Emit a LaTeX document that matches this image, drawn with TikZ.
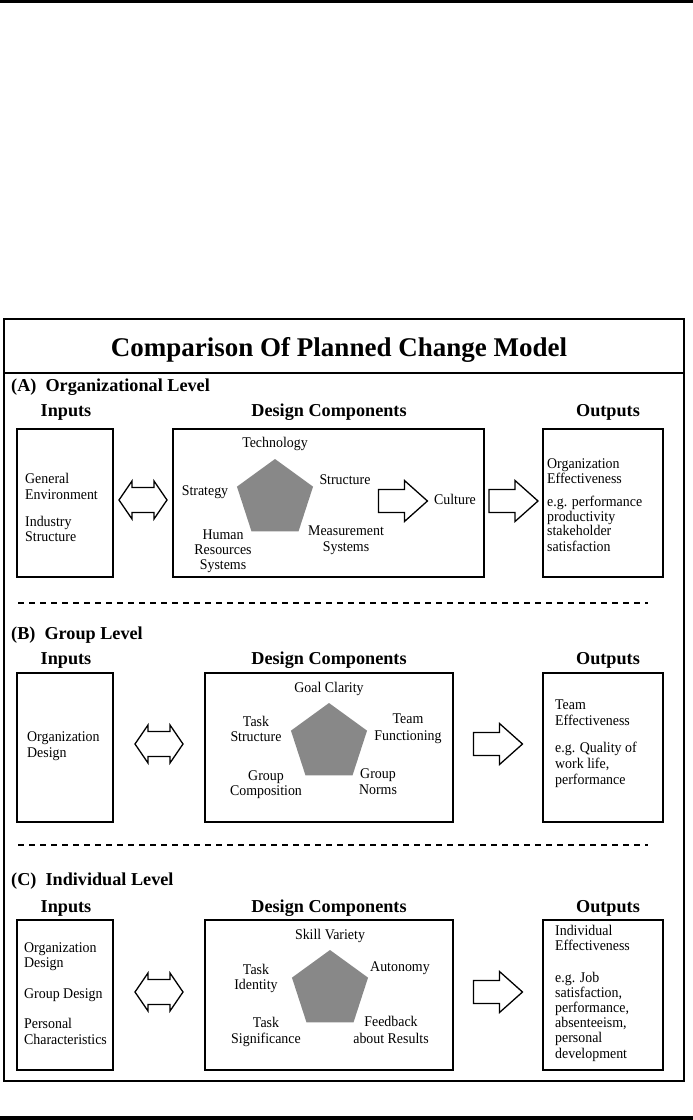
\documentclass[tikz,border=0pt]{standalone}
\usepackage{fontspec}
\setmainfont{Liberation Serif}
\newfontfamily\bodyfont[FakeStretch=0.94]{Liberation Serif}
\usetikzlibrary{shapes.geometric,calc}
\definecolor{pentgray}{RGB}{136,136,136}
\tikzset{
  box/.style={draw,line width=1.5pt,inner sep=0pt},
  lbl/.style={inner sep=0pt,align=center,font=\bodyfont\fontsize{14.8}{15.5}\selectfont},
  lbll/.style={lbl,align=left,anchor=west},
  hd/.style={inner sep=0pt,font=\bfseries\fontsize{18.2}{20}\selectfont},
  ttl/.style={inner sep=0pt,font=\bfseries\fontsize{27}{30}\selectfont},
  pent/.style={regular polygon,regular polygon sides=5,minimum size=80pt,inner sep=0pt,fill=pentgray},
  arr/.style={draw,line width=1.3pt,line join=miter,fill=white},
  sepline/.style={line width=2pt,dash pattern=on 5.5pt off 5.5pt},
  dblarr/.pic={\draw[arr] (-24,0) -- (-11,-19) -- (-11,-12.5) -- (11,-12.5) -- (11,-19) -- (24,0) -- (11,19) -- (11,12.5) -- (-11,12.5) -- (-11,19) -- cycle;},
  sglarr/.pic={\draw[arr] (-24.5,-11.5) -- (1.5,-11.5) -- (1.5,-20.5) -- (24.5,0) -- (1.5,20.5) -- (1.5,11.5) -- (-24.5,11.5) -- cycle;}
}
\newcommand{\bs}[1]{\bodyfont\fontsize{14.8}{#1}\selectfont}
\begin{document}
\begin{tikzpicture}[x=1pt,y=-1pt]
\useasboundingbox (0,0) rectangle (693,1120);
\fill (0,0) rectangle (693,3);
\fill (0,1116) rectangle (693,1120);
% frame
\draw[line width=2pt] (4,319) rectangle (684,1081);
\draw[line width=2pt] (4,373) -- (684,373);
\node[ttl] (title) at (339,350) {Comparison Of Planned Change Model};

% ---------- A ----------
\node[hd,anchor=west] (hA) at (11,387) {(A)\ \ Organizational Level};
\node[hd] (inhA) at (66,412) {Inputs};
\node[hd] (dchA) at (329,412) {Design Components};
\node[hd] (ouhA) at (608,412) {Outputs};
\node[box,minimum width=96pt,minimum height=148pt] (inA) at (65,503) {};
\node[box,minimum width=311pt,minimum height=148pt] (dcA) at (328.5,503) {};
\node[box,minimum width=120pt,minimum height=148pt] (outA) at (603,503) {};
\node[lbll] (genA) at (25,488.5) {\strut General\\\strut Environment};
\node[lbll] (indA) at (25,531) {\strut Industry\\\strut Structure};
\node[pent] (pA) at (275,499) {};
\node[lbl] (techA) at (275,444) {\strut Technology};
\node[lbl] (stratA) at (205,492) {\strut Strategy};
\node[lbl] (structA) at (345,481) {\strut Structure};
\node[lbl,font=\bs{13.5}] (hrA) at (223,551.5) {\strut Human\\\strut Resources\\\strut Systems};
\node[lbl,font=\bs{16}] (msA) at (346,540) {\strut Measurement\\\strut Systems};
\node[lbl] (culA) at (455,501) {\strut Culture};
\node[lbll,font=\bs{14.5}] (oeA) at (547,473) {\strut Organization\\\strut Effectiveness};
\node[lbll,font=\bs{14.7}] (egA) at (547,526) {\strut e.g. performance\\\strut productivity\\\strut stakeholder\\\strut satisfaction};
\pic at ($(inA.east)!.5!(dcA.west)+(0,-3)$) {dblarr};
\pic at ($(culA.west)+(-31,0)$) {sglarr};
\pic at ($(dcA.east)!.5!(outA.west)+(0,-2)$) {sglarr};

\draw[sepline] (18,603) -- (648,603);

% ---------- B ----------
\node[hd,anchor=west] (hB) at (11,635) {(B)\ \ Group Level};
\node[hd] (inhB) at (66,660) {Inputs};
\node[hd] (dchB) at (329,660) {Design Components};
\node[hd] (ouhB) at (608,660) {Outputs};
\node[box,minimum width=96pt,minimum height=149pt] (inB) at (65,747.5) {};
\node[box,minimum width=248pt,minimum height=149pt] (dcB) at (329,747.5) {};
\node[box,minimum width=120pt,minimum height=149pt] (outB) at (603,747.5) {};
\node[lbll,font=\bs{16}] (odB) at (27,746) {\strut Organization\\\strut Design};
\node[pent] (pB) at (329,743) {};
\node[lbl] (gcB) at (329,689) {\strut Goal Clarity};
\node[lbl,font=\bs{15}] (tsB) at (256,730.5) {\strut Task\\\strut Structure};
\node[lbl,font=\bs{16.5}] (tfB) at (408,728.5) {\strut Team\\\strut Functioning};
\node[lbl,font=\bs{15}] (gcoB) at (266,784.5) {\strut Group\\\strut Composition};
\node[lbl,font=\bs{16}] (gnB) at (378,783) {\strut Group\\\strut Norms};
\node[lbll,font=\bs{16}] (teB) at (555,714) {\strut Team\\\strut Effectiveness};
\node[lbll,font=\bs{16}] (egB) at (555,765) {\strut e.g. Quality of\\\strut work life,\\\strut performance};
\pic at ($(inB.east)!.5!(dcB.west)+(0,-3.5)$) {dblarr};
\pic at ($(dcB.east)!.5!(outB.west)+(0,-3.5)$) {sglarr};

\draw[sepline] (18,845) -- (648,845);

% ---------- C ----------
\node[hd,anchor=west] (hC) at (11,881) {(C)\ \ Individual Level};
\node[hd] (inhC) at (66,908) {Inputs};
\node[hd] (dchC) at (329,908) {Design Components};
\node[hd] (ouhC) at (608,908) {Outputs};
\node[box,minimum width=96pt,minimum height=150pt] (inC) at (65,995) {};
\node[box,minimum width=248pt,minimum height=150pt] (dcC) at (329,995) {};
\node[box,minimum width=120pt,minimum height=150pt] (outC) at (603,995) {};
\node[lbll,font=\bs{15}] (odC) at (24,956.5) {\strut Organization\\\strut Design};
\node[lbll] (gdC) at (24,995) {\strut Group Design};
\node[lbll,font=\bs{16}] (pcC) at (24,1033) {\strut Personal\\\strut Characteristics};
\node[pent] (pC) at (330,990) {};
\node[lbl] (svC) at (330,936) {\strut Skill Variety};
\node[lbl,font=\bs{15}] (tiC) at (256,978.5) {\strut Task\\\strut Identity};
\node[lbl] (auC) at (400,968) {\strut Autonomy};
\node[lbl,font=\bs{16}] (tsC) at (266,1032) {\strut Task\\\strut Significance};
\node[lbl,font=\bs{17}] (fbC) at (391,1031.5) {\strut Feedback\\\strut about Results};
\node[lbll,font=\bs{14.5}] (ieC) at (555,940) {\strut Individual\\\strut Effectiveness};
\node[lbll,font=\bs{15.2}] (egC) at (555,1017) {\strut e.g. Job\\\strut satisfaction,\\\strut performance,\\\strut absenteeism,\\\strut personal\\\strut development};
\pic at ($(inC.east)!.5!(dcC.west)+(0,-3)$) {dblarr};
\pic at ($(dcC.east)!.5!(outC.west)+(0,-3)$) {sglarr};
\end{tikzpicture}
\end{document}
